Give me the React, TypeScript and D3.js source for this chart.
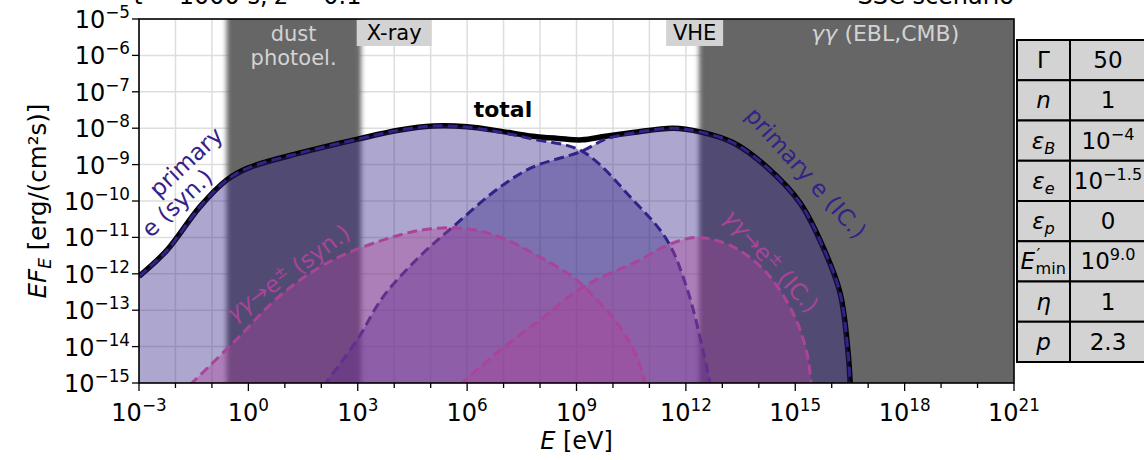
import React from 'react';
import * as d3 from 'd3';

// ---------- data (log10 E [eV], log10 EF_E [erg/(cm^2 s)]) ----------
const totalSED: [number, number][] = [
  [-3, -12.07], [-2.23, -11.35], [-1.33, -10.16], [-0.59, -9.42], [0, -9.09], [1.42, -8.68],
  [3, -8.3], [4.16, -8.05], [5.07, -7.94], [6.0, -7.96], [6.9, -8.08], [7.8, -8.22],
  [8.5, -8.28], [9.15, -8.32], [9.8, -8.22], [10.55, -8.12], [11.65, -8.0], [12.39, -8.1],
  [13.3, -8.4], [14.22, -9.07], [15.13, -10.05], [15.76, -11.26], [16.23, -12.53],
  [16.45, -14.18], [16.52, -15.3],
];
const primarySyn: [number, number][] = [
  [-3, -12.07], [-2.23, -11.35], [-1.33, -10.16], [-0.59, -9.42], [0, -9.09], [1.42, -8.68],
  [3, -8.3], [4.16, -8.05], [5.07, -7.94], [6.0, -7.97], [6.9, -8.11], [7.8, -8.3],
  [9.15, -8.63], [10.55, -9.97], [11.48, -11.07], [12.03, -12.4], [12.47, -14.1], [12.72, -15.3],
];
const primaryIC: [number, number][] = [
  [2.05, -15.1], [2.98, -13.82], [3.69, -12.64], [4.62, -11.6], [5.61, -10.71], [6.9, -9.62],
  [7.8, -9.07], [9.15, -8.63], [9.8, -8.3], [10.55, -8.13], [11.65, -8.0], [12.39, -8.1],
  [13.3, -8.4], [14.22, -9.07], [15.13, -10.05], [15.76, -11.26], [16.23, -12.53],
  [16.45, -14.18], [16.52, -15.3],
];
const pairSyn: [number, number][] = [
  [-1.6, -15.05], [-0.42, -13.9], [0.95, -12.53], [2.32, -11.62], [4.16, -10.93], [5.07, -10.76],
  [6.0, -10.76], [6.9, -10.99], [7.8, -11.43], [8.74, -11.98], [9.18, -12.33], [10.11, -13.35],
  [10.66, -14.29], [10.96, -15.3],
];
const pairIC: [number, number][] = [
  [5.8, -15.05], [6.9, -14.1], [8.0, -13.27], [9.18, -12.36], [10.74, -11.62], [11.48, -11.22],
  [12.3, -11.0], [13.3, -11.26], [14.22, -11.98], [14.94, -13.08], [15.32, -14.18], [15.46, -15.3],
];

const xTickExps = [-3, 0, 3, 6, 9, 12, 15, 18, 21];
const xMinorExps = d3.range(-3, 22, 1);
const yTickExps = d3.range(-15, -4, 1);

const dustBand: [number, number] = [-0.6, 3.09];
const ggBand: [number, number] = [12.36, 23];

const paramNames = ['Γ', 'n', 'εB', 'εe', 'εp', 'Emin', 'η', 'p'];
const paramValues = ['50', '1', '10^−4', '10^−1.5', '0', '10^9.0', '1', '2.3'];

// ---------- style ----------
const W = 1144;
const H = 460;
const PL = 139, PR = 1014, PT = 19, PB = 383;
const FONT = "'DejaVu Sans', sans-serif";
const INDIGO = '#332288';
const PINK = '#AA4499';
const BAND = '#666666';
const LABEL_FS = 23;

function Pow10({ x, y, exp, size, anchor }: { x: number; y: number; exp: string; size: number; anchor: string }) {
  return (
    <text x={x} y={y} fontSize={size} textAnchor={anchor} fontFamily={FONT} fill="#000">
      10
      <tspan dy={-0.42 * size} fontSize={size * 0.7}>{exp}</tspan>
    </text>
  );
}

function ParamName({ name, x, y }: { name: string; x: number; y: number }) {
  const fs = 23;
  if (name.startsWith('ε')) {
    return (
      <text x={x} y={y} fontSize={fs} textAnchor="middle" fontFamily={FONT} fontStyle="italic">
        ε<tspan dy={5} fontSize={fs * 0.7}>{name.slice(1)}</tspan>
      </text>
    );
  }
  if (name === 'Emin') {
    return (
      <g>
        <text x={x - 23} y={y} fontSize={fs} fontFamily={FONT} fontStyle="italic">E</text>
        <text x={x - 7} y={y - 8} fontSize={fs * 0.75} fontFamily={FONT}>′</text>
        <text x={x - 8} y={y + 5} fontSize={fs * 0.7} fontFamily={FONT}>min</text>
      </g>
    );
  }
  const italic = name !== 'Γ';
  return (
    <text x={x} y={y} fontSize={fs} textAnchor="middle" fontFamily={FONT} fontStyle={italic ? 'italic' : 'normal'}>
      {name}
    </text>
  );
}

function ParamValue({ v, x, y }: { v: string; x: number; y: number }) {
  const fs = 23;
  if (v.startsWith('10^')) {
    return (
      <text x={x} y={y} fontSize={fs} textAnchor="middle" fontFamily={FONT}>
        10<tspan dy={-9} fontSize={fs * 0.7}>{v.slice(3)}</tspan>
      </text>
    );
  }
  return (
    <text x={x} y={y} fontSize={fs} textAnchor="middle" fontFamily={FONT}>
      {v}
    </text>
  );
}

export default function App() {
  const x = d3.scaleLog().domain([1e-3, 1e21]).range([PL, PR]);
  const y = d3.scaleLog().domain([1e-15, 1e-5]).range([PB, PT]);
  const X = (e: number) => x(Math.pow(10, e));
  const Y = (f: number) => y(Math.pow(10, f));

  const curve = d3.curveCatmullRom.alpha(0.5);
  const line = d3
    .line<[number, number]>()
    .x((d) => X(d[0]))
    .y((d) => Y(d[1]))
    .curve(curve);
  const area = d3
    .area<[number, number]>()
    .x((d) => X(d[0]))
    .y0(PB + 10)
    .y1((d) => Y(d[1]))
    .curve(curve);

  const components = [
    { data: primarySyn, color: INDIGO },
    { data: primaryIC, color: INDIGO },
    { data: pairSyn, color: PINK },
    { data: pairIC, color: PINK },
  ];

  const rowTop = 40;
  const rowH = 40.25;
  const tX0 = 1017, tX1 = 1070, tX2 = 1146;

  return (
    <svg
      width={W}
      height={H}
      style={{ position: 'fixed', left: 0, top: 0, background: '#fff' }}
      fontFamily={FONT}
    >
      <defs>
        <clipPath id="plotClip">
          <rect x={PL} y={PT} width={PR - PL} height={PB - PT} />
        </clipPath>
        <filter id="bandBlur" x="-0.3" y="-0.1" width="1.6" height="1.2">
          <feGaussianBlur stdDeviation="2.8" />
        </filter>
      </defs>
      <rect x={0} y={0} width={W} height={H} fill="#fff" />

      {/* title fragments (cut off at the top) */}
      <text x={134} y={4} fontSize={24} fontFamily={FONT}>
        <tspan fontStyle="italic">t</tspan> = 1000 s, <tspan fontStyle="italic">z</tspan> = 0.1
      </text>
      <text x={PR} y={4} fontSize={24} fontFamily={FONT} textAnchor="end">
        SSC scenario
      </text>

      <g clipPath="url(#plotClip)">
        {/* grid */}
        {xMinorExps.map((e) => (
          <line key={'gx' + e} x1={X(e)} x2={X(e)} y1={PT} y2={PB} stroke="#dedede" strokeWidth={1.5} />
        ))}
        {yTickExps.map((e) => (
          <line key={'gy' + e} x1={PL} x2={PR} y1={Y(e)} y2={Y(e)} stroke="#dedede" strokeWidth={1.5} />
        ))}
        {/* bands */}
        <rect
          x={X(dustBand[0])}
          y={PT - 40}
          width={X(dustBand[1]) - X(dustBand[0])}
          height={PB - PT + 80}
          fill={BAND}
          filter="url(#bandBlur)"
        />
        <rect
          x={X(ggBand[0])}
          y={PT - 40}
          width={X(ggBand[1]) - X(ggBand[0])}
          height={PB - PT + 80}
          fill={BAND}
          filter="url(#bandBlur)"
        />

        {/* total */}
        <path d={line(totalSED) || ''} fill="none" stroke="#000" strokeWidth={5.5} strokeLinejoin="round" />

        {/* components */}
        {components.map((c, i) => (
          <g key={'c' + i}>
            <path d={area(c.data) || ''} fill={c.color} fillOpacity={0.4} stroke="none" />
            <path
              d={line(c.data) || ''}
              fill="none"
              stroke={c.color}
              strokeWidth={3}
              strokeDasharray="10 5"
            />
          </g>
        ))}
      </g>

      {/* band labels */}
      <text x={X(1.24)} y={41} fontSize={21} fill="#d3d3d3" textAnchor="middle">dust</text>
      <text x={X(1.24)} y={65} fontSize={21} fill="#d3d3d3" textAnchor="middle">photoel.</text>
      <rect x={X(4.0) - 37.5} y={PT + 1} width={75} height={26} fill="#d3d3d3" />
      <text x={X(4.0)} y={40} fontSize={21} fill="#000" textAnchor="middle">X-ray</text>
      <rect x={X(12.24) - 28.5} y={PT + 1} width={57} height={26} fill="#d3d3d3" />
      <text x={X(12.24)} y={40} fontSize={21} fill="#000" textAnchor="middle">VHE</text>
      <text x={X(17.47)} y={41} fontSize={22} fill="#d3d3d3" textAnchor="middle">
        <tspan fontStyle="italic">γγ</tspan> (EBL,CMB)
      </text>

      {/* curve labels */}
      <text x={503} y={117} fontSize={22} fontWeight="bold" textAnchor="middle">total</text>
      <g transform="translate(186,162) rotate(-43)">
        <text x={0} y={8} fontSize={LABEL_FS} fill={INDIGO} textAnchor="middle">primary</text>
      </g>
      <g transform="translate(177,203) rotate(-43)">
        <text x={0} y={8} fontSize={LABEL_FS} fill={INDIGO} textAnchor="middle">e (syn.)</text>
      </g>
      <g transform="translate(806,173) rotate(48)">
        <text x={0} y={8} fontSize={LABEL_FS} fill={INDIGO} textAnchor="middle">primary e (IC.)</text>
      </g>
      <g transform="translate(288,273) rotate(-36)">
        <text x={0} y={8} fontSize={LABEL_FS} fill={PINK} textAnchor="middle">
          <tspan fontStyle="italic">γγ</tspan>→e<tspan dy={-8} fontSize={16}>±</tspan>
          <tspan dy={8}> (syn.)</tspan>
        </text>
      </g>
      <g transform="translate(771,261) rotate(48)">
        <text x={0} y={8} fontSize={LABEL_FS} fill={PINK} textAnchor="middle">
          <tspan fontStyle="italic">γγ</tspan>→e<tspan dy={-8} fontSize={16}>±</tspan>
          <tspan dy={8}> (IC.)</tspan>
        </text>
      </g>

      {/* frame */}
      <rect x={PL} y={PT} width={PR - PL} height={PB - PT} fill="none" stroke="#000" strokeWidth={1.6} />

      {/* x ticks */}
      {xMinorExps.map((e) => (
        <line key={'xt' + e} x1={X(e)} x2={X(e)} y1={PB} y2={PB + (e % 3 === 0 ? 8 : 5)} stroke="#000" strokeWidth={1.3} />
      ))}
      {xTickExps.map((e) => (
        <Pow10 key={'xl' + e} x={X(e)} y={421} exp={e < 0 ? '−' + Math.abs(e) : String(e)} size={24} anchor="middle" />
      ))}
      {/* y ticks */}
      {yTickExps.map((e) => (
        <line key={'yt' + e} x1={PL - 7} x2={PL} y1={Y(e)} y2={Y(e)} stroke="#000" strokeWidth={1.3} />
      ))}
      {yTickExps.map((e) => (
        <Pow10 key={'yl' + e} x={130} y={Y(e) + 9} exp={'−' + Math.abs(e)} size={24} anchor="end" />
      ))}

      {/* axis labels */}
      <text x={(PL + PR) / 2} y={449} fontSize={24} textAnchor="middle">
        <tspan fontStyle="italic">E</tspan> [eV]
      </text>
      <g transform="translate(46,201) rotate(-90)">
        <text x={0} y={0} fontSize={24.5} textAnchor="middle">
          <tspan fontStyle="italic">EF</tspan>
          <tspan fontStyle="italic" dy={5} fontSize={17}>E</tspan>
          <tspan dy={-5}> [erg/(cm²s)]</tspan>
        </text>
      </g>

      {/* parameter table */}
      {paramNames.map((n, i) => {
        const ty = rowTop + i * rowH;
        return (
          <g key={'row' + i}>
            <rect x={tX0} y={ty} width={tX1 - tX0} height={rowH} fill="#d3d3d3" stroke="#000" strokeWidth={2} />
            <rect x={tX1} y={ty} width={tX2 - tX1} height={rowH} fill="#d3d3d3" stroke="#000" strokeWidth={2} />
            <ParamName name={n} x={(tX0 + tX1) / 2} y={ty + rowH / 2 + 8} />
            <ParamValue v={paramValues[i]} x={1108} y={ty + rowH / 2 + 8} />
          </g>
        );
      })}
    </svg>
  );
}
